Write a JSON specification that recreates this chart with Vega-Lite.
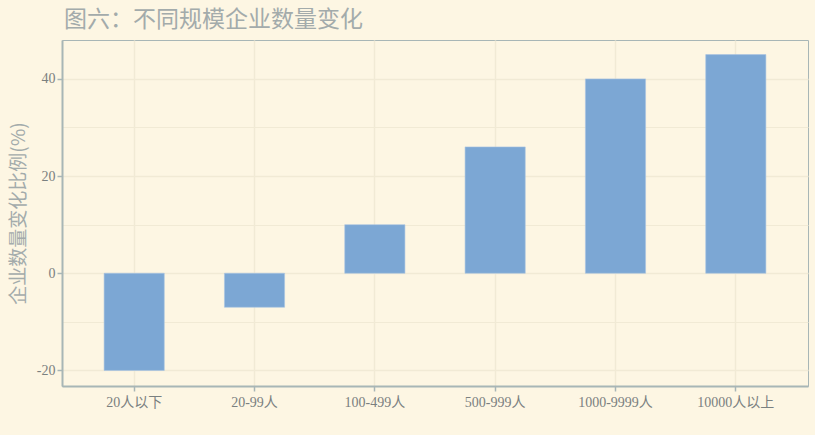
{
  "$schema": "https://vega.github.io/schema/vega-lite/v6.json",
  "width": 746,
  "height": 346,
  "autosize": {"type": "none"},
  "padding": {"left": 62, "top": 40, "right": 7, "bottom": 49},
  "background": "#fdf6e3",
  "title": {
    "text": "图六：不同规模企业数量变化",
    "anchor": "start",
    "frame": "group",
    "offset": 8,
    "dx": 2,
    "fontSize": 23,
    "font": "Noto Sans CJK SC",
    "fontWeight": "normal",
    "color": "#a3abab"
  },
  "config": {
    "view": {"stroke": "#a8b6b6", "strokeWidth": 1, "fill": "#fdf6e3"},
    "font": "Liberation Serif"
  },
  "data": {
    "values": [
      {"size": "20人以下", "change": -20},
      {"size": "20-99人", "change": -7},
      {"size": "100-499人", "change": 10},
      {"size": "500-999人", "change": 26},
      {"size": "1000-9999人", "change": 40},
      {"size": "10000人以上", "change": 45}
    ]
  },
  "mark": {"type": "bar", "color": "#7ca7d4", "stroke": "#a9c4e2", "strokeWidth": 0.6},
  "encoding": {
    "x": {
      "field": "size",
      "type": "nominal",
      "sort": null,
      "scale": {"paddingInner": 0.5, "paddingOuter": 0.35},
      "axis": {
        "title": null,
        "labelAngle": 0,
        "labelFont": "Liberation Serif, Noto Sans CJK SC",
        "labelFontSize": 14,
        "labelColor": "#7a8080",
        "labelPadding": 4,
        "tickSize": 5,
        "tickColor": "#a8b6b6",
        "tickWidth": 1.5,
        "domainColor": "#a8b6b6",
        "domainWidth": 2,
        "grid": true,
        "gridColor": "#f1ead5",
        "gridWidth": 1.5
      }
    },
    "y": {
      "field": "change",
      "type": "quantitative",
      "scale": {"domain": [-23.2, 48], "nice": false, "zero": false},
      "axis": {
        "title": "企业数量变化比例(%)",
        "titleFont": "Noto Sans CJK SC",
        "titleFontSize": 19,
        "titleFontWeight": "normal",
        "titleColor": "#a3abab",
        "titlePadding": 8,
        "values": [-20, -10, 0, 10, 20, 30, 40],
        "labelExpr": "datum.value % 20 == 0 ? '' + datum.value : ''",
        "labelFont": "Liberation Serif",
        "labelFontSize": 14,
        "labelColor": "#7a8080",
        "labelPadding": 2,
        "tickSize": 5,
        "tickColor": "#a8b6b6",
        "tickWidth": 1.5,
        "tickOpacity": {"condition": {"test": "datum.value % 20 != 0", "value": 0}, "value": 1},
        "domainColor": "#a8b6b6",
        "domainWidth": 2,
        "grid": true,
        "gridColor": "#f1ead5",
        "gridWidth": {"condition": {"test": "datum.value % 20 != 0", "value": 1}, "value": 1.5}
      }
    }
  }
}
